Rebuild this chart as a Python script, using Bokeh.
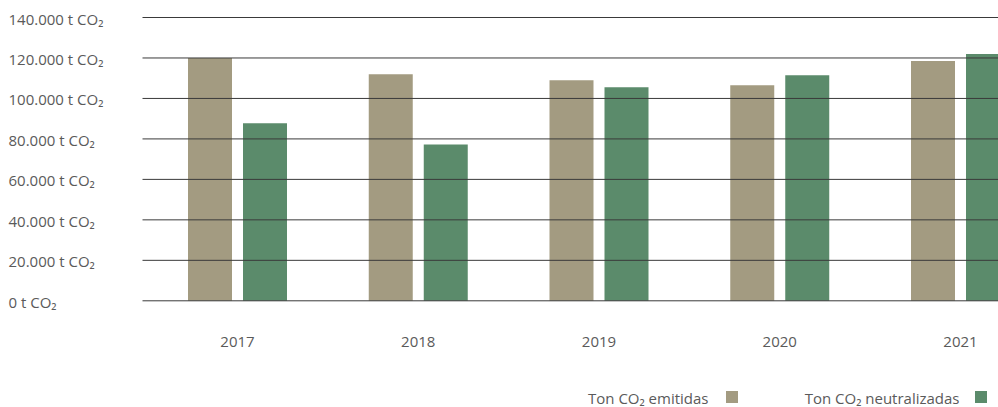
from bokeh.plotting import figure
from bokeh.models import (ColumnDataSource, Range1d, LabelSet, Label, Legend, LegendItem)
from bokeh.core.properties import value
from bokeh.transform import dodge
from bokeh.embed import file_html
from bokeh.resources import INLINE

years = [2017, 2018, 2019, 2020, 2021]
year_labels = ["2017", "2018", "2019", "2020", "2021"]
emitidas = [120000, 112000, 109000, 106500, 118500]
neutralizadas = [87700, 77300, 105500, 111500, 122000]
y_ticks = [0, 20000, 40000, 60000, 80000, 100000, 120000, 140000]
y_tick_labels = ["0 t CO₂", "20.000 t CO₂", "40.000 t CO₂", "60.000 t CO₂",
                 "80.000 t CO₂", "100.000 t CO₂", "120.000 t CO₂", "140.000 t CO₂"]
series_names = ["Ton CO₂ emitidas", "Ton CO₂ neutralizadas"]
colors = ["#a39b81", "#5b8b6b"]

FONT = "Open Sans"
TXT = "#5a5a5a"

# ---- layout (pixels in the canvas) ----
W, H = 998, 407
PLOT_LEFT = 142          # where grid lines start
FIRST_CENTER = 237       # pixel centre of first year group
PX_PER_YEAR = 180.75
Y_TOP_PX, Y_ZERO_PX = 17.0, 300.3   # pixels of 140000 and 0
Y_MAX = 140000

x_start = years[0] - FIRST_CENTER / PX_PER_YEAR
x_end = x_start + W / PX_PER_YEAR
units_per_px = Y_MAX / (Y_ZERO_PX - Y_TOP_PX)
y_end = Y_MAX + Y_TOP_PX * units_per_px
y_start = -(H - Y_ZERO_PX) * units_per_px
grid_x0 = x_start + PLOT_LEFT / PX_PER_YEAR

src = ColumnDataSource(dict(year=years, emitidas=emitidas, neutralizadas=neutralizadas,
                            label=year_labels))
tick_src = ColumnDataSource(dict(y=y_ticks, text=y_tick_labels,
                                 x0=[grid_x0] * len(y_ticks), x1=[x_end] * len(y_ticks)))

p = figure(width=W, height=H, output_backend="svg", toolbar_location=None,
           x_range=Range1d(x_start, x_end), y_range=Range1d(y_start, y_end),
           min_border_left=0, min_border_right=0, min_border_top=0, min_border_bottom=0)
p.axis.visible = False
p.grid.visible = False
p.outline_line_color = None
p.background_fill_color = "white"
p.border_fill_color = "white"

BAR_W = 44 / PX_PER_YEAR
OFF = 27.5 / PX_PER_YEAR
r1 = p.vbar(x=dodge("year", -OFF, range=p.x_range), top="emitidas", bottom=0, width=BAR_W,
            source=src, fill_color=colors[0], line_color=None)
r2 = p.vbar(x=dodge("year", OFF, range=p.x_range), top="neutralizadas", bottom=0, width=BAR_W,
            source=src, fill_color=colors[1], line_color=None)

# horizontal grid lines, drawn over the bars
p.segment(x0="x0", x1="x1", y0="y", y1="y", source=tick_src,
          line_color="#3a3a3a", line_width=1)

# y tick labels, left aligned
p.add_layout(LabelSet(x=8, y="y", text="text", x_units="screen", y_units="data",
                      source=tick_src, text_align="left", text_baseline="middle",
                      y_offset=-1, text_font=value(FONT), text_font_size=value("15px"),
                      text_color=TXT))

# x tick labels
p.add_layout(LabelSet(x="year", y=H - 341, text="label", x_units="data", y_units="screen",
                      source=src, text_align="center", text_baseline="middle",
                      text_font=value(FONT), text_font_size=value("15px"), text_color=TXT))

# legend: text then square
text_right = [708, 959]
sq_left = [724, 973]
for name, tx, sx, r in zip(series_names, text_right, sq_left, [r1, r2]):
    p.add_layout(Label(x=tx, y=H - 397, x_units="screen", y_units="screen", text=name,
                       text_align="right", text_baseline="middle", text_font=FONT,
                       text_font_size="15px", text_color=TXT))
    lg = Legend(items=[LegendItem(label=" ", renderers=[r])], location=(sx, H - 404),
                orientation="horizontal", glyph_width=15, glyph_height=15,
                padding=0, margin=0, spacing=0, label_standoff=0, label_width=0,
                label_height=15, border_line_color=None, background_fill_alpha=0,
                label_text_font_size="1px")
    p.add_layout(lg)

open("out.html", "w").write(file_html(p, INLINE))
